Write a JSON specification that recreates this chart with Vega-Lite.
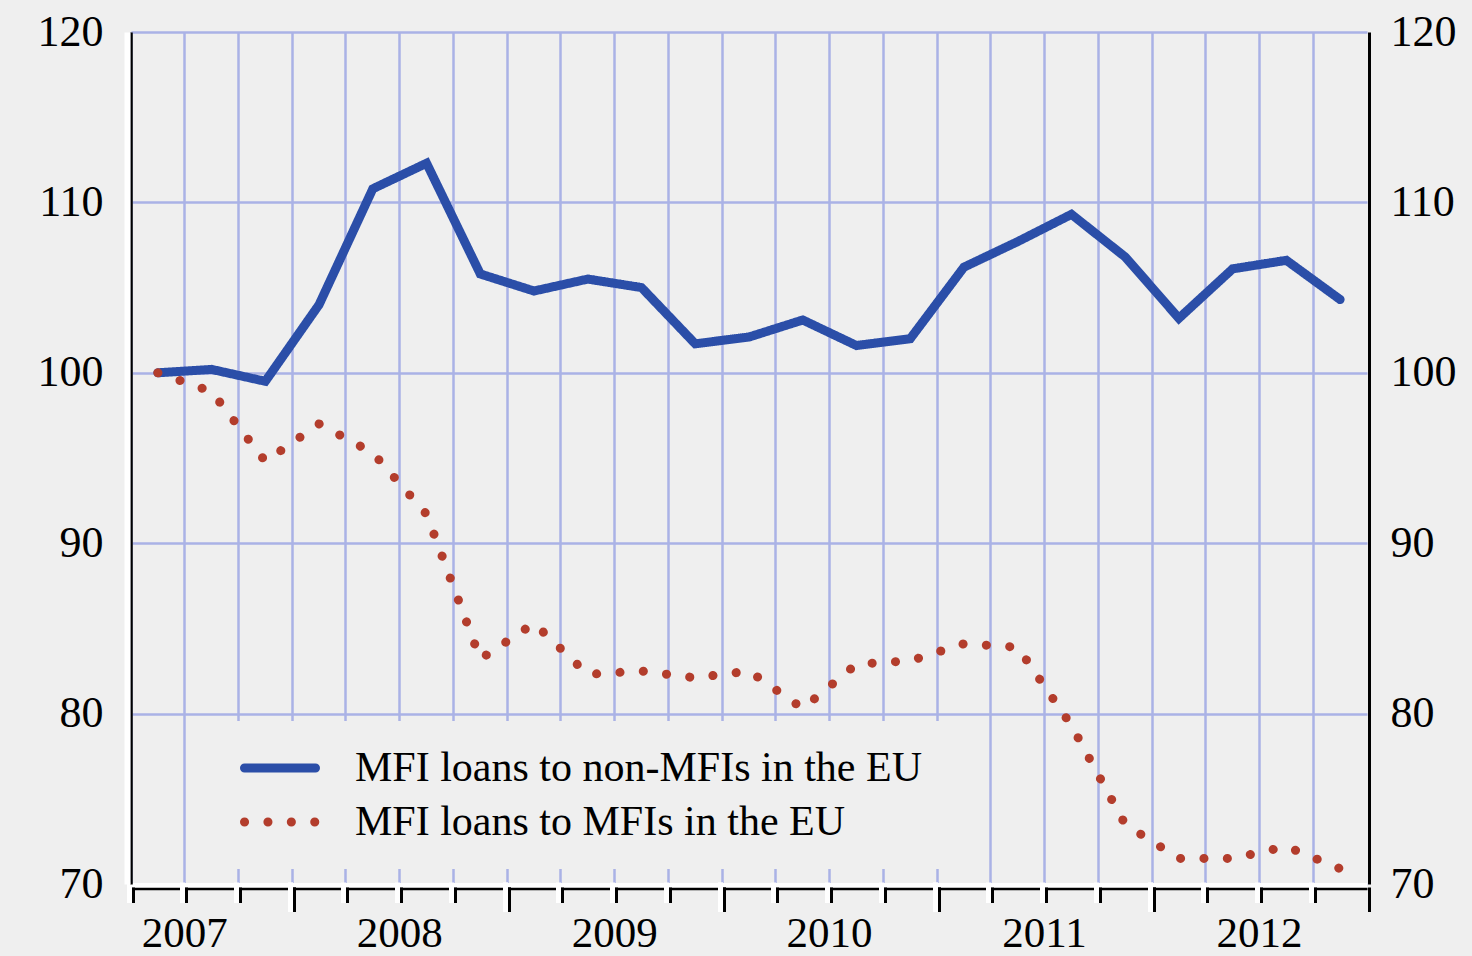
{
  "$schema": "https://vega.github.io/schema/vega-lite/v6.json",
  "width": 1236,
  "height": 852,
  "autosize": "none",
  "padding": {"left": 131, "top": 32, "right": 105, "bottom": 72},
  "background": "#efefef",
  "config": {
    "view": {"stroke": null},
    "font": "Liberation Serif",
    "axis": {"labelFont": "Liberation Serif", "labelColor": "black", "title": null}
  },
  "data": {
    "values": [
      {"quarter": "2007Q2", "series": "MFI loans to non-MFIs in the EU", "value": 100.0},
      {"quarter": "2007Q3", "series": "MFI loans to non-MFIs in the EU", "value": 100.2},
      {"quarter": "2007Q4", "series": "MFI loans to non-MFIs in the EU", "value": 99.5},
      {"quarter": "2008Q1", "series": "MFI loans to non-MFIs in the EU", "value": 104.0},
      {"quarter": "2008Q2", "series": "MFI loans to non-MFIs in the EU", "value": 110.8},
      {"quarter": "2008Q3", "series": "MFI loans to non-MFIs in the EU", "value": 112.3},
      {"quarter": "2008Q4", "series": "MFI loans to non-MFIs in the EU", "value": 105.8},
      {"quarter": "2009Q1", "series": "MFI loans to non-MFIs in the EU", "value": 104.8},
      {"quarter": "2009Q2", "series": "MFI loans to non-MFIs in the EU", "value": 105.5},
      {"quarter": "2009Q3", "series": "MFI loans to non-MFIs in the EU", "value": 105.0},
      {"quarter": "2009Q4", "series": "MFI loans to non-MFIs in the EU", "value": 101.7},
      {"quarter": "2010Q1", "series": "MFI loans to non-MFIs in the EU", "value": 102.1},
      {"quarter": "2010Q2", "series": "MFI loans to non-MFIs in the EU", "value": 103.1},
      {"quarter": "2010Q3", "series": "MFI loans to non-MFIs in the EU", "value": 101.6},
      {"quarter": "2010Q4", "series": "MFI loans to non-MFIs in the EU", "value": 102.0},
      {"quarter": "2011Q1", "series": "MFI loans to non-MFIs in the EU", "value": 106.2},
      {"quarter": "2011Q2", "series": "MFI loans to non-MFIs in the EU", "value": 107.7},
      {"quarter": "2011Q3", "series": "MFI loans to non-MFIs in the EU", "value": 109.3},
      {"quarter": "2011Q4", "series": "MFI loans to non-MFIs in the EU", "value": 106.8},
      {"quarter": "2012Q1", "series": "MFI loans to non-MFIs in the EU", "value": 103.2},
      {"quarter": "2012Q2", "series": "MFI loans to non-MFIs in the EU", "value": 106.1},
      {"quarter": "2012Q3", "series": "MFI loans to non-MFIs in the EU", "value": 106.6},
      {"quarter": "2012Q4", "series": "MFI loans to non-MFIs in the EU", "value": 104.3},
      {"quarter": "2007Q2", "series": "MFI loans to MFIs in the EU", "value": 100.0},
      {"quarter": "2007Q3", "series": "MFI loans to MFIs in the EU", "value": 98.9},
      {"quarter": "2007Q4", "series": "MFI loans to MFIs in the EU", "value": 94.8},
      {"quarter": "2008Q1", "series": "MFI loans to MFIs in the EU", "value": 97.0},
      {"quarter": "2008Q2", "series": "MFI loans to MFIs in the EU", "value": 95.3},
      {"quarter": "2008Q3", "series": "MFI loans to MFIs in the EU", "value": 91.7},
      {"quarter": "2008Q4", "series": "MFI loans to MFIs in the EU", "value": 83.2},
      {"quarter": "2009Q1", "series": "MFI loans to MFIs in the EU", "value": 85.3},
      {"quarter": "2009Q2", "series": "MFI loans to MFIs in the EU", "value": 82.3},
      {"quarter": "2009Q3", "series": "MFI loans to MFIs in the EU", "value": 82.5},
      {"quarter": "2009Q4", "series": "MFI loans to MFIs in the EU", "value": 82.1},
      {"quarter": "2010Q1", "series": "MFI loans to MFIs in the EU", "value": 82.5},
      {"quarter": "2010Q2", "series": "MFI loans to MFIs in the EU", "value": 80.3},
      {"quarter": "2010Q3", "series": "MFI loans to MFIs in the EU", "value": 82.9},
      {"quarter": "2010Q4", "series": "MFI loans to MFIs in the EU", "value": 83.1},
      {"quarter": "2011Q1", "series": "MFI loans to MFIs in the EU", "value": 84.1},
      {"quarter": "2011Q2", "series": "MFI loans to MFIs in the EU", "value": 83.9},
      {"quarter": "2011Q3", "series": "MFI loans to MFIs in the EU", "value": 79.3},
      {"quarter": "2011Q4", "series": "MFI loans to MFIs in the EU", "value": 73.5},
      {"quarter": "2012Q1", "series": "MFI loans to MFIs in the EU", "value": 71.5},
      {"quarter": "2012Q2", "series": "MFI loans to MFIs in the EU", "value": 71.5},
      {"quarter": "2012Q3", "series": "MFI loans to MFIs in the EU", "value": 72.2},
      {"quarter": "2012Q4", "series": "MFI loans to MFIs in the EU", "value": 70.9}
    ]
  },
  "layer": [
    {
      "mark": {"type": "line", "strokeWidth": 9, "strokeCap": "round"},
      "encoding": {
        "x": {
          "field": "quarter", "type": "ordinal",
          "scale": {"type": "band", "paddingInner": 0, "paddingOuter": 0},
          "axis": {"orient": "bottom", "bandPosition": 0, "grid": true, "gridColor": "#aab2e6", "gridWidth": 2.5, "domain": false, "ticks": false, "labels": false}
        },
        "y": {
          "field": "value", "type": "quantitative",
          "scale": {"domain": [70, 120], "nice": false, "zero": false},
          "axis": {"orient": "left", "values": [70, 80, 90, 100, 110, 120], "grid": true, "gridColor": "#aab2e6", "gridWidth": 2.5, "domainColor": "black", "domainWidth": 2.5, "ticks": false, "labelFontSize": 44, "labelPadding": 28}
        },
        "color": {
          "field": "series", "type": "nominal",
          "scale": {"domain": ["MFI loans to non-MFIs in the EU", "MFI loans to MFIs in the EU"], "range": ["#2b4ea8", "#b33d2c"]},
          "legend": {
            "title": null, "orient": "none", "legendX": 69, "legendY": 689,
            "padding": 20, "fillColor": "#efefef", "strokeColor": null,
            "symbolType": "stroke", "symbolSize": 5041, "symbolStrokeWidth": 9,
            "symbolOffset": 20, "labelOffset": 35, "labelFontSize": 42,
            "labelFont": "Liberation Serif", "labelColor": "black", "labelLimit": 0,
            "clipHeight": 54, "rowPadding": 0,
            "labelExpr": "datum.label + '  '",
            "encoding": {"symbols": {"strokeCap": {"value": "round"}, "strokeDash": {"value": {"signal": "datum.value === 'MFI loans to MFIs in the EU' ? [0.1, 17.4] : [1, 0]"}}}}
          }
        },
        "strokeDash": {
          "field": "series", "type": "nominal",
          "scale": {"domain": ["MFI loans to non-MFIs in the EU", "MFI loans to MFIs in the EU"], "range": [[1, 0], [0.1, 23.3]]},
          "legend": null
        }
      }
    },
    {
      "mark": {"type": "point", "opacity": 0},
      "encoding": {
        "x": {"field": "quarter", "type": "ordinal", "axis": {"orient": "bottom", "domainColor": "white", "domainWidth": 6, "offset": 1.5, "ticks": false, "labels": false, "grid": false}},
        "y": {"field": "value", "type": "quantitative", "axis": {"orient": "right", "offset": 2, "values": [70, 80, 90, 100, 110, 120], "grid": false, "ticks": false, "domainColor": "black", "domainWidth": 3, "labelPadding": 21, "labelFontSize": 44}}
      }
    },
    {
      "mark": {"type": "point", "opacity": 0},
      "encoding": {
        "x": {"field": "quarter", "type": "ordinal", "axis": {"orient": "bottom", "domainColor": "black", "domainWidth": 2.5, "offset": 4.5, "ticks": false, "labels": false, "grid": false}},
        "y": {"field": "value", "type": "quantitative", "axis": {"orient": "left", "domainColor": "white", "domainWidth": 6, "offset": 4, "ticks": false, "labels": false, "grid": false}}
      }
    },
    {
      "mark": {"type": "point", "opacity": 0},
      "encoding": {
        "x": {"field": "quarter", "type": "ordinal", "axis": {"orient": "bottom", "bandPosition": 0, "translate": -1.5, "domain": false, "tickColor": "white", "tickWidth": 5, "tickSize": 20.5, "offset": 0, "labels": false, "grid": false}},
        "y": {"field": "value", "type": "quantitative", "axis": null}
      }
    },
    {
      "mark": {"type": "point", "opacity": 0},
      "encoding": {
        "x": {"field": "quarter", "type": "ordinal", "axis": {"orient": "bottom", "bandPosition": 1, "translate": -1.5, "values": ["2007Q4", "2008Q4", "2009Q4", "2010Q4", "2011Q4"], "domain": false, "tickColor": "white", "tickWidth": 5, "tickSize": 29.5, "offset": 0, "labels": false, "grid": false}},
        "y": {"field": "value", "type": "quantitative", "axis": null}
      }
    },
    {
      "mark": {"type": "point", "opacity": 0},
      "encoding": {
        "x": {"field": "quarter", "type": "ordinal", "axis": {"orient": "bottom", "bandPosition": 0, "translate": 2.5, "domain": false, "tickColor": "black", "tickWidth": 3, "tickSize": 15.5, "offset": 1, "labels": false, "grid": false}},
        "y": {"field": "value", "type": "quantitative", "axis": null}
      }
    },
    {
      "mark": {"type": "point", "opacity": 0},
      "encoding": {
        "x": {"field": "quarter", "type": "ordinal", "axis": {"orient": "bottom", "bandPosition": 1, "translate": 2.5, "values": ["2007Q4", "2008Q4", "2009Q4", "2010Q4", "2011Q4", "2012Q4"], "domain": false, "tickColor": "black", "tickWidth": 3, "tickSize": 24.5, "offset": 1, "labels": false, "grid": false}},
        "y": {"field": "value", "type": "quantitative", "axis": null}
      }
    },
    {
      "mark": {"type": "point", "opacity": 0},
      "encoding": {
        "x": {"field": "quarter", "type": "ordinal", "axis": {"orient": "bottom", "bandPosition": 0, "values": ["2007Q3", "2008Q3", "2009Q3", "2010Q3", "2011Q3", "2012Q3"], "labelExpr": "slice(datum.label, 0, 4)", "labelOffset": -26.87, "labelBaseline": "alphabetic", "domain": false, "ticks": false, "grid": false, "labelFontSize": 43, "labelPadding": 62, "labelAngle": 0}},
        "y": {"field": "value", "type": "quantitative", "axis": null}
      }
    }
  ],
  "resolve": {"axis": {"x": "independent", "y": "independent"}}
}
